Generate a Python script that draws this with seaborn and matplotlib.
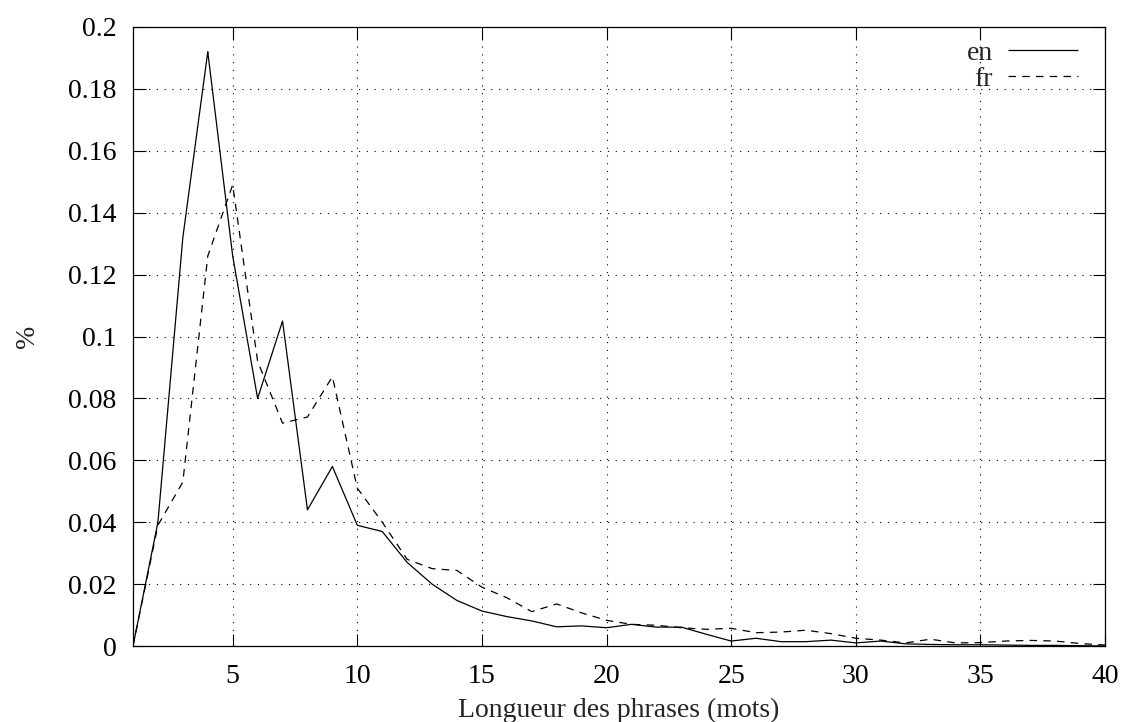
import matplotlib
matplotlib.use("Agg")
import matplotlib.pyplot as plt
import seaborn as sns
import pandas as pd

# longueur des phrases (mots)
longueur = list(range(1, 41))

en = [0.0, 0.040, 0.132, 0.192, 0.126, 0.080, 0.105, 0.044, 0.058, 0.039,
      0.037, 0.027, 0.020, 0.0147, 0.0113, 0.0095, 0.0081, 0.0062, 0.0065, 0.0059,
      0.0070, 0.0061, 0.0061, 0.0038, 0.0016, 0.0025, 0.0014, 0.0014, 0.0019, 0.0010,
      0.0016, 0.0007, 0.0005, 0.0004, 0.0004, 0.0003, 0.0002, 0.0002, 0.0001, 0.0]

fr = [0.0, 0.039, 0.053, 0.126, 0.149, 0.092, 0.072, 0.074, 0.087, 0.051,
      0.040, 0.028, 0.025, 0.0244, 0.019, 0.0156, 0.0111, 0.0136, 0.0107, 0.0083,
      0.0070, 0.0067, 0.0059, 0.0054, 0.0057, 0.0043, 0.0045, 0.0051, 0.0040, 0.0025,
      0.0019, 0.0010, 0.0022, 0.0010, 0.0011, 0.0016, 0.0018, 0.0016, 0.0008, 0.0003]

df = pd.concat([
    pd.DataFrame({"mots": longueur, "pct": en, "langue": "en"}),
    pd.DataFrame({"mots": longueur, "pct": fr, "langue": "fr"}),
])

sns.set_style("ticks")
plt.rcParams["font.family"] = ["Liberation Serif", "DejaVu Serif"]
plt.rcParams["font.size"] = 20

fig = plt.figure(figsize=(11.27, 7.22), dpi=100)
ax = fig.add_axes([133 / 1127, 1 - 646 / 722, 972 / 1127, 619 / 722])

sns.lineplot(data=df, x="mots", y="pct", style="langue", color="black",
             dashes=[(1, 0), (6, 5)], linewidth=0.9, ax=ax)

ax.set_xlim(1, 40)
ax.set_ylim(0, 0.2)
ax.set_xticks([5, 10, 15, 20, 25, 30, 35, 40])
ax.set_yticks([0, 0.02, 0.04, 0.06, 0.08, 0.1, 0.12, 0.14, 0.16, 0.18, 0.2])
ax.set_yticklabels(["0", "0.02", "0.04", "0.06", "0.08", "0.1", "0.12",
                    "0.14", "0.16", "0.18", "0.2"])
ax.grid(True, color="black", linestyle=(0, (1, 6)), linewidth=0.8)
ax.tick_params(direction="in", length=9, width=0.8, top=True, right=True,
               labelsize=20, colors="black")
ax.tick_params(axis="y", pad=12)
ax.tick_params(axis="x", pad=13)
for s in ax.spines.values():
    s.set_color("black")
    s.set_linewidth(0.9)

ax.set_xlabel("Longueur des phrases (mots)", fontsize=20, labelpad=6)
ax.set_ylabel("%", fontsize=20)
ax.yaxis.set_label_coords(-0.096, 0.5)

ax.legend(loc="upper right", bbox_to_anchor=(0.9722, 0.978), frameon=False,
          markerfirst=False, fontsize=20, handlelength=2.52,
          handletextpad=0.54, labelspacing=0.0, borderaxespad=0,
          borderpad=0)

fig.savefig("out.png", dpi=100)
